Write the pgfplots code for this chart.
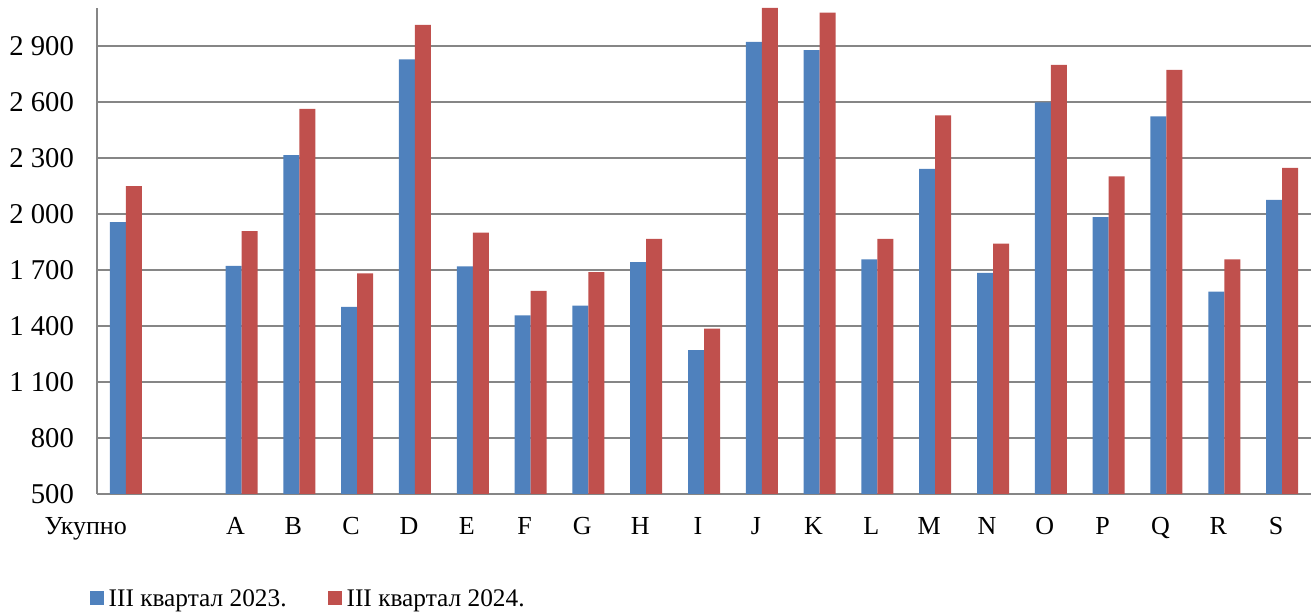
\documentclass[border=0pt]{standalone}
\usepackage{fontspec}
\setmainfont{Liberation Serif}
\usepackage{pgfplots}
\pgfplotsset{compat=1.18}

\definecolor{blue23}{HTML}{4F81BD}
\definecolor{red24}{HTML}{C0504D}
\definecolor{gridgray}{HTML}{868686}

\begin{document}
\begin{tikzpicture}
\begin{axis}[
    scale only axis,
    width=364.2pt,
    height=145.8pt,
    ybar=0pt,
    bar width=4.8pt,
    xmin=-0.5, xmax=20.5,
    ymin=500, ymax=3102,
    xtick={0,...,20},
    xticklabels={\makebox[4.2pt][r]{Укупно},,A,B,C,D,E,F,G,H,I,J,K,L,M,N,O,P,Q,R,S},
    ytick={500,800,...,2900},
    major tick length=0pt,
    axis lines*=left,
    axis line style={draw=gridgray, line width=0.5pt},
    ymajorgrids,
    grid style={draw=gridgray, line width=0.5pt},
    /pgf/number format/assume math mode=true,
    /pgf/number format/1000 sep={\ },
    yticklabel style={font=\fontsize{8.6}{10}\selectfont, xshift=-3.4pt},
    xticklabel style={font=\fontsize{7.8}{9.4}\selectfont, yshift=-3.6pt, xshift=-1.8pt},
    legend style={
        at={(-0.0066,-0.2199)}, anchor=west,
        draw=none, inner sep=0pt, font=\fontsize{7.6}{9}\selectfont,
        nodes={inner sep=0pt},
        legend columns=2,
        /tikz/every odd column/.append style={column sep=1.5pt},
        /tikz/every even column/.append style={column sep=12.3pt},
    },
    legend image code/.code={\fill[#1] (0pt,-1.2pt) rectangle (4.2pt,3.0pt);},
]
\addplot[fill=blue23, draw=none] coordinates {
    (0,1956) (2,1721) (3,2314) (4,1502) (5,2827) (6,1718) (7,1456)
    (8,1509) (9,1741) (10,1270) (11,2921) (12,2877) (13,1756) (14,2240)
    (15,1684) (16,2597) (17,1982) (18,2522) (19,1584) (20,2075)
};
\addlegendentry{III квартал 2023.}

\addplot[fill=red24, draw=none] coordinates {
    (0,2148) (2,1907) (3,2562) (4,1681) (5,3012) (6,1900) (7,1587)
    (8,1688) (9,1866) (10,1386) (11,3102) (12,3077) (13,1866) (14,2527)
    (15,1841) (16,2798) (17,2200) (18,2771) (19,1756) (20,2246)
};
\addlegendentry{III квартал 2024.}
\end{axis}
\pgfresetboundingbox
\path (-29.1pt,-36pt) rectangle (364.2pt,148.2pt);
\end{tikzpicture}
\end{document}
